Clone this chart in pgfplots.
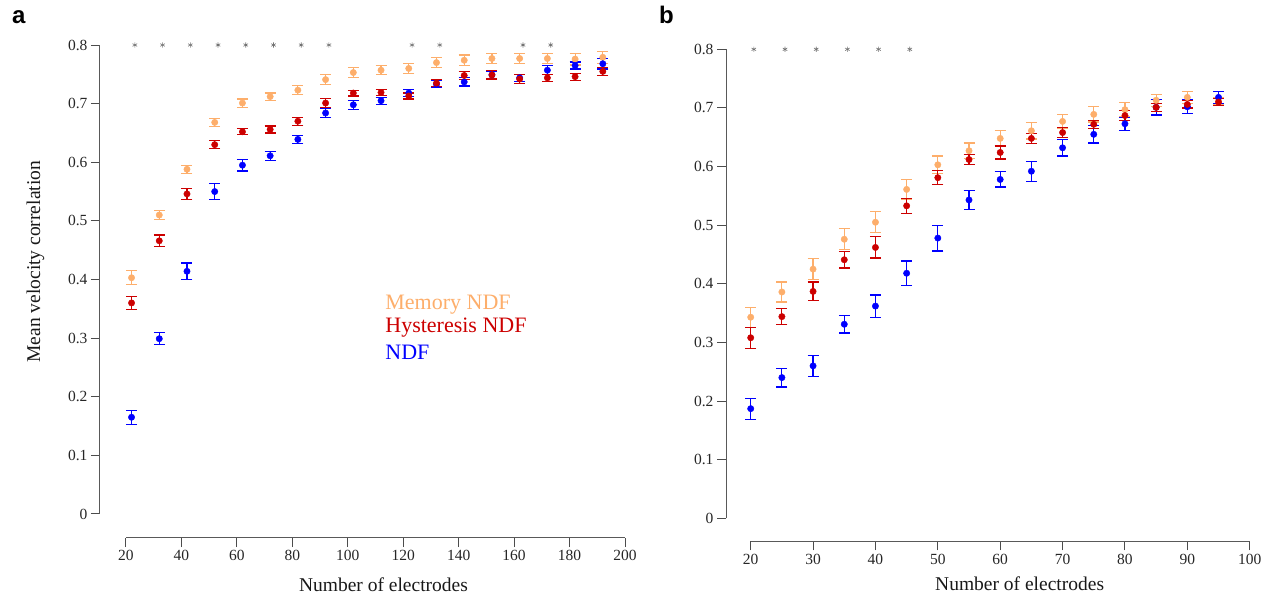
\documentclass[border=0pt]{standalone}
\usepackage{pgfplots}
\pgfplotsset{compat=1.18}
\usepackage{pgfplotstable}
\usepackage{fontspec}
\setmainfont{Liberation Serif}
\newfontfamily\panelfont{Liberation Sans}

\definecolor{memc}{RGB}{253,174,107}
\definecolor{hysc}{RGB}{204,0,0}
\definecolor{ndfc}{RGB}{0,0,255}

% panel a: x = number of electrodes
\pgfplotstableread{
x   mem   meme  hys   hyse  ndf   ndfe
22  0.403 0.012 0.360 0.011 0.165 0.012
32  0.510 0.008 0.466 0.010 0.299 0.010
42  0.588 0.007 0.546 0.009 0.414 0.014
52  0.668 0.007 0.630 0.007 0.550 0.014
62  0.701 0.007 0.652 0.005 0.595 0.010
72  0.712 0.006 0.656 0.006 0.611 0.008
82  0.723 0.008 0.670 0.007 0.639 0.007
92  0.741 0.008 0.701 0.008 0.684 0.008
102 0.753 0.008 0.718 0.005 0.698 0.008
112 0.757 0.008 0.719 0.005 0.705 0.006
122 0.760 0.009 0.713 0.005 0.718 0.006
132 0.770 0.008 0.735 0.006 0.733 0.006
142 0.774 0.009 0.748 0.007 0.737 0.007
152 0.777 0.009 0.749 0.007 0.749 0.006
162 0.777 0.009 0.742 0.007 0.744 0.006
172 0.777 0.009 0.744 0.006 0.757 0.008
182 0.776 0.010 0.746 0.006 0.765 0.006
192 0.779 0.010 0.755 0.007 0.768 0.009
}\dataA

% panel b
\pgfplotstableread{
x   mem   meme  hys   hyse  ndf   ndfe
20  0.343 0.017 0.308 0.018 0.187 0.018
25  0.386 0.017 0.344 0.014 0.240 0.016
30  0.425 0.018 0.387 0.016 0.260 0.018
35  0.476 0.018 0.441 0.014 0.331 0.015
40  0.505 0.018 0.462 0.018 0.362 0.019
45  0.561 0.017 0.533 0.013 0.418 0.021
50  0.603 0.015 0.581 0.012 0.478 0.022
55  0.627 0.013 0.612 0.009 0.543 0.016
60  0.648 0.014 0.624 0.011 0.578 0.013
65  0.661 0.014 0.648 0.009 0.592 0.017
70  0.677 0.012 0.658 0.008 0.632 0.014
75  0.689 0.013 0.672 0.007 0.655 0.015
80  0.697 0.012 0.687 0.008 0.673 0.011
85  0.713 0.010 0.701 0.007 0.701 0.013
90  0.718 0.010 0.706 0.006 0.702 0.012
95  0.712 0.006 0.710 0.006 0.718 0.010
}\dataB

\pgfplotsset{
  panel/.style={
    scale only axis, width=499pt, height=469pt,
    axis x line*=bottom, axis y line*=left,
    axis x line shift=24pt, axis y line shift=26pt,
    axis line style={-, black!65, line width=1pt},
    tick align=outside, major tick length=9pt,
    tick style={black!70, line width=1pt},
    ymin=0, ymax=0.8, ytick={0,0.1,0.2,0.3,0.4,0.5,0.6,0.7,0.8},
    clip=false,
    /pgf/number format/assume math mode=true,
    yticklabel style={/pgf/number format/fixed, /pgf/number format/precision=1},
    ticklabel style={font=\fontsize{15.5}{18}\selectfont, text=black!85},
    label style={font=\fontsize{19.5}{22}\selectfont, text=black!90},
  },
  ser/.style={only marks, mark=*, mark size=3.2pt, color=#1,
    mark options={color=#1, fill=#1},
    error bars/.cd, y dir=both, y explicit,
    error bar style={line width=1.2pt, color=#1, solid},
    error mark options={rotate=90, mark size=5.5pt, line width=1.2pt, color=#1}},
  star/.style={only marks, mark=asterisk, mark size=2.6pt, black!55, line width=0.6pt},
}

\begin{document}
\begin{tikzpicture}
\path[use as bounding box] (-126pt,-88pt) rectangle (1146pt,514pt);

\begin{axis}[panel, at={(0pt,0pt)}, anchor=south west,
    xmin=20, xmax=200, xtick={20,40,...,200},
    xlabel={Number of electrodes},
    xlabel style={at={(rel axis cs:0.516,-0.1514)}, anchor=center},
    ylabel={Mean velocity correlation},
    ylabel style={at={(rel axis cs:-0.1814,0.538)}, anchor=center},
]
\addplot[ser=memc] table[x=x, y=mem, y error=meme] {\dataA};
\addplot[ser=ndfc] table[x=x, y=ndf, y error=ndfe] {\dataA};
\addplot[ser=hysc] table[x=x, y=hys, y error=hyse] {\dataA};
\addplot[star] coordinates {(23.2,0.8) (33.2,0.8) (43.2,0.8) (53.2,0.8) (63.2,0.8) (73.2,0.8) (83.2,0.8) (93.2,0.8) (123.2,0.8) (133.2,0.8) (163.2,0.8) (173.2,0.8)};
\node[anchor=west, inner sep=0pt, text=memc, font=\fontsize{22}{26}\selectfont] at (axis cs:113.5,0.357) {Memory NDF};
\node[anchor=west, inner sep=0pt, text=hysc, font=\fontsize{22}{26}\selectfont] at (axis cs:113.5,0.318) {Hysteresis NDF};
\node[anchor=west, inner sep=0pt, text=ndfc, font=\fontsize{22}{26}\selectfont] at (axis cs:113.5,0.275) {NDF};
\end{axis}

\begin{axis}[panel, at={(624.7pt,-4.3pt)}, anchor=south west,
    axis x line shift=23pt, axis y line shift=24.7pt,
    xmin=20, xmax=100, xtick={20,30,...,100},
    xlabel={Number of electrodes},
    xlabel style={at={(rel axis cs:0.539,-0.139)}, anchor=center},
]
\addplot[ser=memc] table[x=x, y=mem, y error=meme] {\dataB};
\addplot[ser=ndfc] table[x=x, y=ndf, y error=ndfe] {\dataB};
\addplot[ser=hysc] table[x=x, y=hys, y error=hyse] {\dataB};
\addplot[star] coordinates {(20.5,0.8) (25.5,0.8) (30.5,0.8) (35.5,0.8) (40.5,0.8) (45.5,0.8)};
\end{axis}

\node[anchor=base west, inner sep=0pt, font=\panelfont\bfseries\fontsize{24}{28}\selectfont] at (-114pt,490pt) {a};
\node[anchor=base west, inner sep=0pt, font=\panelfont\bfseries\fontsize{24}{28}\selectfont] at (533pt,490pt) {b};
\end{tikzpicture}
\end{document}
